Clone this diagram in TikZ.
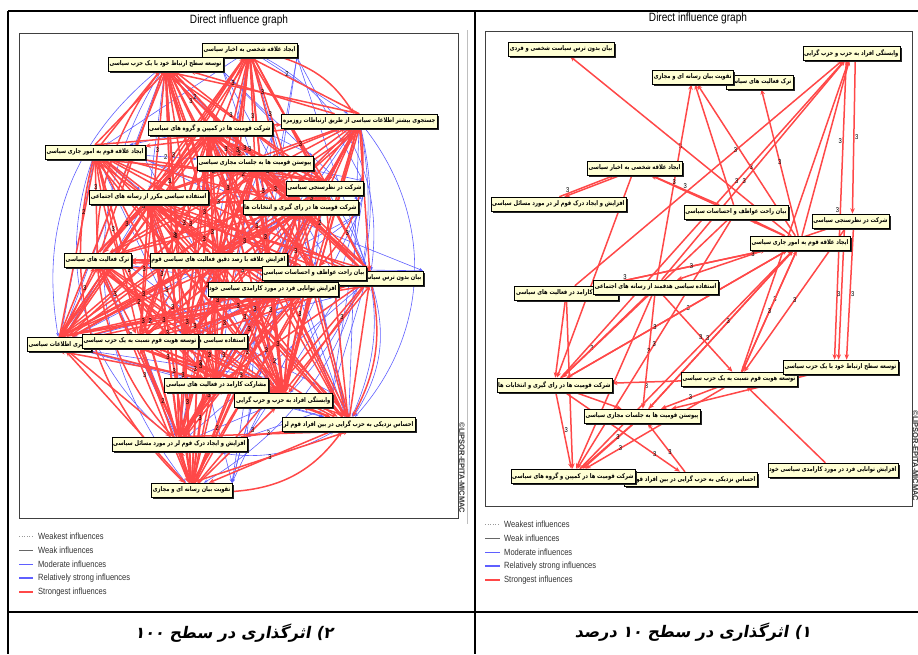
\documentclass[tikz,border=0pt]{standalone}
\usepackage{fontspec}
\usetikzlibrary{arrows.meta,shadows}
\TeXXeTstate=1
\newfontfamily\arabicfont[Script=Arabic,FakeStretch=0.8]{DejaVu Sans}
\newfontfamily\capfont[Script=Arabic,FakeSlant=0.18]{DejaVu Sans}
\newfontfamily\narrowfont[FakeStretch=0.84]{Liberation Sans}
\newfontfamily\markfont{Liberation Sans}
\newcommand{\myrtl}[1]{\beginR #1\endR}
\definecolor{redc}{RGB}{255,72,72}
\definecolor{bluec}{RGB}{95,95,255}
\definecolor{boxc}{RGB}{255,255,212}
\pgfdeclarelayer{edgelayer}
\pgfdeclarelayer{labellayer}
\pgfsetlayers{edgelayer,labellayer,main}
\tikzset{
  vbox/.style={draw=black, line width=0.5pt, fill=boxc, inner sep=1.3pt, minimum height=14pt,
    font=\arabicfont\bfseries\fontsize{6.5}{7}\selectfont,
    drop shadow={shadow xshift=1.8pt,shadow yshift=-1.8pt,fill=black!85,opacity=1}},
  redge/.style={draw=redc, line width=1.5pt, -{Stealth[length=5.5pt,width=4.5pt]}},
  bedge/.style={draw=bluec, line width=0.6pt, -{Stealth[length=4pt,width=3pt]}},
  elab/.style={font=\narrowfont\fontsize{7}{7}\selectfont, inner sep=0.4pt, text=black},
  legtxt/.style={font=\narrowfont\fontsize{9}{10}\selectfont, text=black!80, anchor=west, inner sep=0pt},
  ttl/.style={font=\narrowfont\fontsize{12}{13}\selectfont, inner sep=0pt},
  pframe/.style={draw=black!75, line width=0.9pt},
  trule/.style={draw=black, line width=2pt},
  wmark/.style={font=\markfont\bfseries\fontsize{7.5}{8}\selectfont, text=black!80, rotate=-90, inner sep=0pt},
  capt/.style={font=\capfont\bfseries\fontsize{16}{18}\selectfont, inner sep=0pt},
}
\begin{document}
\begin{tikzpicture}[x=1pt,y=-1pt]
\useasboundingbox (0,0) rectangle (918,654);
% table rules
\draw[trule] (8,11) -- (918,11);
\draw[trule] (8,11) -- (8,654);
\draw[trule] (475,11) -- (475,654);
\draw[trule] (8,612) -- (918,612);
% ---------------- LEFT PANEL ----------------
\node[ttl] (lt) at (239,20) {Direct influence graph};
\draw[pframe] (19,33) rectangle (458,518);
\draw[black!25, line width=0.6pt] (467,30) -- (467,524);
\node[wmark] (lw) at (462,468) {\textcopyright LIPSOR-EPITA-MICMAC};

\node[vbox,anchor=east] (L1) at (297,50) {\myrtl{ایجاد علاقه شخصی به اخبار سیاسی}};
\node[vbox,anchor=east] (L2) at (223,64) {\myrtl{توسعه سطح ارتباط خود با یک حزب سیاسی}};
\node[vbox,anchor=east] (L3) at (437,121) {\myrtl{جستجوی بیشتر اطلاعات سیاسی از طریق ارتباطات روزمره}};
\node[vbox,anchor=east] (L4) at (272,128) {\myrtl{شرکت قومیت ها در کمپین و گروه های سیاسی}};
\node[vbox,anchor=east] (L5) at (145,152) {\myrtl{ایجاد علاقه قوم به امور جاری سیاسی}};
\node[vbox,anchor=east] (L6) at (313,163) {\myrtl{پیوستن قومیت ها به جلسات مجازی سیاسی}};
\node[vbox,anchor=east] (L7) at (363,188) {\myrtl{شرکت در نظرسنجی سیاسی}};
\node[vbox,anchor=east] (L8) at (208,197) {\myrtl{استفاده سیاسی مکرر از رسانه های اجتماعی}};
\node[vbox,anchor=east] (L9) at (358,207) {\myrtl{شرکت قومیت ها در رای گیری و انتخابات ها}};
\node[vbox,anchor=east] (L10) at (131,260) {\myrtl{ترک فعالیت های سیاسی}};
\node[vbox,anchor=east] (L11) at (287,260) {\myrtl{افزایش علاقه با رصد دقیق فعالیت های سیاسی قوم}};
\node[vbox,anchor=east] (L13) at (423,278) {\myrtl{بیان بدون ترس سیاست شخصی و فردی}};
\node[vbox,anchor=east] (L12) at (366,273) {\myrtl{بیان راحت عواطف و احساسات سیاسی}};
\node[vbox,anchor=east] (L14) at (338,289) {\myrtl{افزایش توانایی فرد در مورد کارامدی سیاسی خود}};
\node[vbox,anchor=west] (L15) at (27,344) {\myrtl{پیگیری اطلاعات سیاسی}};
\node[vbox,anchor=east] (L17) at (247,341) {\myrtl{استفاده سیاسی هدفمند از رسانه های اجتماعی}};
\node[vbox,anchor=east] (L16) at (198,341) {\myrtl{توسعه هویت قوم نسبت به یک حزب سیاسی}};
\node[vbox,anchor=east] (L18) at (268,385) {\myrtl{مشارکت کارامد در فعالیت های سیاسی}};
\node[vbox,anchor=east] (L19) at (332,400) {\myrtl{وابستگی افراد به حزب و حزب گرایی}};
\node[vbox,anchor=east] (L20) at (415,424) {\myrtl{احساس نزدیکی به حزب گرایی در بین افراد قوم لر}};
\node[vbox,anchor=east] (L21) at (247,444) {\myrtl{افزایش و ایجاد درک قوم لر در مورد مسائل سیاسی}};
\node[vbox,anchor=east] (L22) at (232,490) {\myrtl{تقویت بیان رسانه ای و مجازی}};

\begin{pgfonlayer}{edgelayer}
\foreach \i in {1,...,21}{
  \pgfmathtruncatemacro{\jstart}{\i+1}
  \foreach \j in {\jstart,...,22}{
    \pgfmathtruncatemacro{\k}{mod(3*\i+5*\j,9)}
    \ifnum\k<2 \draw[bedge] (L\i) -- (L\j); \fi
    \pgfmathtruncatemacro{\m}{mod(\i*\j+2*\j,5)}
    \ifnum\m=1 \draw[bedge] (L\i.south east) -- (L\j.north east); \fi
  }
}
\draw[bedge] (L3) to[bend left=40] (L20);
\draw[bedge] (L3) to[bend left=28] (L19);
\draw[bedge] (L3) to[bend left=35] (L22);
\draw[bedge] (L1) to[bend left=35] (L13);
\draw[bedge] (L13) to[bend left=25] (L20);
\draw[bedge] (L7) to[bend left=30] (L20);
\draw[bedge] (L5) to[bend right=35] (L21);
\draw[bedge] (L2) to[bend right=35] (L22);
\draw[bedge] (L21) to[bend right=20] (L20);
\draw[bedge] (L2) to[bend right=30] (L15);
\foreach \i in {1,...,21}{
  \pgfmathtruncatemacro{\jstart}{\i+1}
  \foreach \j in {\jstart,...,22}{
    \pgfmathtruncatemacro{\k}{mod(3*\i+5*\j,9)}
    \pgfmathtruncatemacro{\d}{mod(\i+\j,2)}
    \ifnum\k>1
      \ifnum\d=0 \draw[redge] (L\i) -- (L\j); \else \draw[redge] (L\j) -- (L\i); \fi
    \fi
    \pgfmathtruncatemacro{\m}{mod(\i*\j+\i,4)}
    \ifnum\m=0 \draw[redge] (L\j.north) -- (L\i.south); \fi
  }
}
\draw[redge] (L13) to[bend left=20] (L20);
\draw[redge] (L5) to[bend right=30] (L22);
\draw[redge] (L2) to[bend right=40] (L21);
\draw[redge] (L5) to[bend right=20] (L18);
\draw[redge] (L22) to[bend right=25] (L20);
\draw[redge] (L1) to[bend left=20] (L3);
\draw[redge] (L3) to[bend left=25] (L12);
\end{pgfonlayer}
\begin{pgfonlayer}{labellayer}
\foreach \i in {1,...,21}{
  \pgfmathtruncatemacro{\jstart}{\i+1}
  \foreach \j in {\jstart,...,22}{
    \pgfmathtruncatemacro{\k}{mod(3*\i+5*\j,9)}
    \pgfmathtruncatemacro{\s}{mod(\i*\j+\i,3)}
    \pgfmathsetmacro{\p}{0.3+0.1*mod(7*\i+\j,5)}
    \ifnum\s>0
      \ifnum\k<2 \path (L\i) -- node[elab,pos=\p]{2} (L\j);
      \else \path (L\i) -- node[elab,pos=\p]{3} (L\j); \fi
    \fi
  }
}
\end{pgfonlayer}

% legend left
\draw[black!40, line width=0.6pt, dotted] (19,536) -- (33,536);
\node[legtxt] (lg1) at (38,536) {Weakest influences};
\draw[black!60, line width=0.8pt] (19,550) -- (33,550);
\node[legtxt] (lg2) at (38,550) {Weak influences};
\draw[bluec, line width=0.8pt] (19,564) -- (33,564);
\node[legtxt] (lg3) at (38,564) {Moderate influences};
\draw[bluec, line width=2pt] (19,578) -- (33,578);
\node[legtxt] (lg4) at (38,578) {Relatively strong influences};
\draw[redc, line width=2pt] (19,592) -- (33,592);
\node[legtxt] (lg5) at (38,592) {Strongest influences};

\node[capt] (cl) at (234,633) {\myrtl{۲) اثرگذاری در سطح ۱۰۰}};

% ---------------- RIGHT PANEL ----------------
\node[ttl] (rt) at (698,18) {Direct influence graph};
\draw[pframe] (485,31) rectangle (912,506);
\node[wmark] (rw) at (915.5,456) {\textcopyright LIPSOR-EPITA-MICMAC};

\node[vbox,anchor=east] (R1) at (614,49) {\myrtl{بیان بدون ترس سیاست شخصی و فردی}};
\node[vbox,anchor=east] (R2) at (900,53) {\myrtl{وابستگی افراد به حزب و حزب گرایی}};
\node[vbox,anchor=east] (R4) at (793,82) {\myrtl{ترک فعالیت های سیاسی}};
\node[vbox,anchor=east] (R3) at (733,77) {\myrtl{تقویت بیان رسانه ای و مجازی}};
\node[vbox,anchor=east] (R5) at (682,168) {\myrtl{ایجاد علاقه شخصی به اخبار سیاسی}};
\node[vbox,anchor=east] (R6) at (626,204) {\myrtl{افزایش و ایجاد درک قوم لر در مورد مسائل سیاسی}};
\node[vbox,anchor=east] (R7) at (788,212) {\myrtl{بیان راحت عواطف و احساسات سیاسی}};
\node[vbox,anchor=east] (R8) at (889,221) {\myrtl{شرکت در نظرسنجی سیاسی}};
\node[vbox,anchor=east] (R9) at (850,243) {\myrtl{ایجاد علاقه قوم به امور جاری سیاسی}};
\node[vbox,anchor=east] (R11) at (618,293) {\myrtl{مشارکت کارامد در فعالیت های سیاسی}};
\node[vbox,anchor=east] (R10) at (718,287) {\myrtl{استفاده سیاسی هدفمند از رسانه های اجتماعی}};
\node[vbox,anchor=east] (R13) at (797,379) {\myrtl{توسعه هویت قوم نسبت به یک حزب سیاسی}};
\node[vbox,anchor=east] (R12) at (898,367) {\myrtl{توسعه سطح ارتباط خود با یک حزب سیاسی}};
\node[vbox,anchor=east] (R14) at (612,385) {\myrtl{شرکت قومیت ها در رای گیری و انتخابات ها}};
\node[vbox,anchor=east] (R15) at (700,416) {\myrtl{پیوستن قومیت ها به جلسات مجازی سیاسی}};
\node[vbox,anchor=east] (R17) at (757,479) {\myrtl{احساس نزدیکی به حزب گرایی در بین افراد قوم لر}};
\node[vbox,anchor=east] (R16) at (635,476) {\myrtl{شرکت قومیت ها در کمپین و گروه های سیاسی}};
\node[vbox,anchor=east] (R18) at (898,470) {\myrtl{افزایش توانایی فرد در مورد کارامدی سیاسی خود}};

\begin{pgfonlayer}{edgelayer}
\draw[redge] (R9) -- node[elab,pos=0.5]{3} (R1);
\draw[redge] (R10) -- node[elab,pos=0.5]{3} (R3);
\draw[redge] (R9) -- node[elab,pos=0.45]{3} (R3);
\draw[redge] (R7) -- (R3);
\draw[redge] (R9) -- node[elab,pos=0.5]{3} (R4);
\draw[redge] (R10) -- node[elab,pos=0.45]{3} (R2);
\draw[redge] (R14) -- node[elab,pos=0.62]{3} (R2);
\draw[redge] (R11) -- node[elab,pos=0.6]{3} (R2);
\draw[redge] (R9) -- (R2);
\draw[redge] (R13) -- (R2);
\draw[redge] ([xshift=4pt]R2.south) -- node[elab,pos=0.5,right]{3} ([xshift=2pt]R8.north);
\draw[redge] ([xshift=-5pt]R2.south) -- node[elab,pos=0.27,left]{3} node[elab,pos=0.5,left]{3} ([xshift=-6pt]R12.north);
\draw[redge] ([xshift=-6pt]R8.south) -- node[elab,pos=0.5,left]{3} ([xshift=-2pt]R12.north);
\draw[redge] ([xshift=3pt]R8.south) -- node[elab,pos=0.5,right]{3} ([xshift=6pt]R12.north);
\draw[redge] ([xshift=-14pt]R5.south) -- ([xshift=6pt]R6.north);
\draw[redge] ([xshift=1pt]R6.north) -- node[elab,pos=0.15,above]{3} ([xshift=-20pt]R5.south);
\draw[redge] (R7) -- node[elab,pos=0.5,above]{3} (R5);
\draw[redge] (R9) -- (R5);
\draw[redge] (R9) -- (R7);
\draw[redge] (R14) -- node[elab,pos=0.55]{3} (R9);
\draw[redge] (R15) -- (R9);
\draw[redge] (R16) -- node[elab,pos=0.6]{3} (R9);
\draw[redge] (R13) -- node[elab,pos=0.6]{3} (R9);
\draw[redge] (R9) -- node[elab,pos=0.85,above]{3} (R11);
\draw[redge] (R11) -- node[elab,pos=0.55]{3} (R9);
\draw[redge] (R10) -- node[elab,pos=0.55]{3} (R13);
\draw[redge] (R13) -- node[elab,pos=0.5,below]{3} (R14);
\draw[redge] (R13) -- (R12);
\draw[redge] (R18) -- (R13);
\draw[redge] ([xshift=-8pt]R15.south) -- ([xshift=10pt]R16.north);
\draw[redge] (R15) -- node[elab,pos=0.3]{3} (R16);
\draw[redge] (R14) -- node[elab,pos=0.5,right]{3} (R16);
\draw[redge] (R13) -- node[elab,pos=0.75]{3} (R16);
\draw[redge] (R10) -- (R16);
\draw[redge] (R11) -- (R16);
\draw[redge] (R14) -- node[elab,pos=0.78]{3} (R17);
\draw[redge] (R17) -- node[elab,pos=0.4]{3} (R15);
\draw[redge] (R13) -- node[elab,pos=0.5]{3} (R15);
\draw[redge] (R14) -- (R15);
\draw[redge] (R10) -- node[elab,pos=0.5]{3} (R15);
\draw[redge] (R12) -- (R15);
\draw[redge] (R10) -- node[elab,pos=0.65]{3} (R14);
\draw[redge] (R11) -- (R14);
\draw[redge] (R9) -- node[elab,pos=0.6]{3} (R14);
\draw[redge] (R8) -- node[elab,pos=0.5]{3} (R13);
\draw[redge] (R9) -- node[elab,pos=0.5]{3} (R13);
\draw[redge] (R9) -- node[elab,pos=0.45]{3} (R15);
\draw[redge] (R5) -- (R14);
\draw[redge] (R7) -- (R14);
\draw[redge] (R7) -- node[elab,pos=0.5]{3} (R16);
\draw[redge] (R8) -- node[elab,pos=0.5]{3} (R10);
\end{pgfonlayer}

% legend right
\draw[black!40, line width=0.6pt, dotted] (485,524) -- (500,524);
\node[legtxt] (rg1) at (504,524) {Weakest influences};
\draw[black!60, line width=0.8pt] (485,538) -- (500,538);
\node[legtxt] (rg2) at (504,538) {Weak influences};
\draw[bluec, line width=0.8pt] (485,552) -- (500,552);
\node[legtxt] (rg3) at (504,552) {Moderate influences};
\draw[bluec, line width=2pt] (485,566) -- (500,566);
\node[legtxt] (rg4) at (504,566) {Relatively strong influences};
\draw[redc, line width=2pt] (485,580) -- (500,580);
\node[legtxt] (rg5) at (504,580) {Strongest influences};

\node[capt] (cr) at (693,632) {\myrtl{۱) اثرگذاری در سطح ۱۰ درصد}};
\end{tikzpicture}
\end{document}
